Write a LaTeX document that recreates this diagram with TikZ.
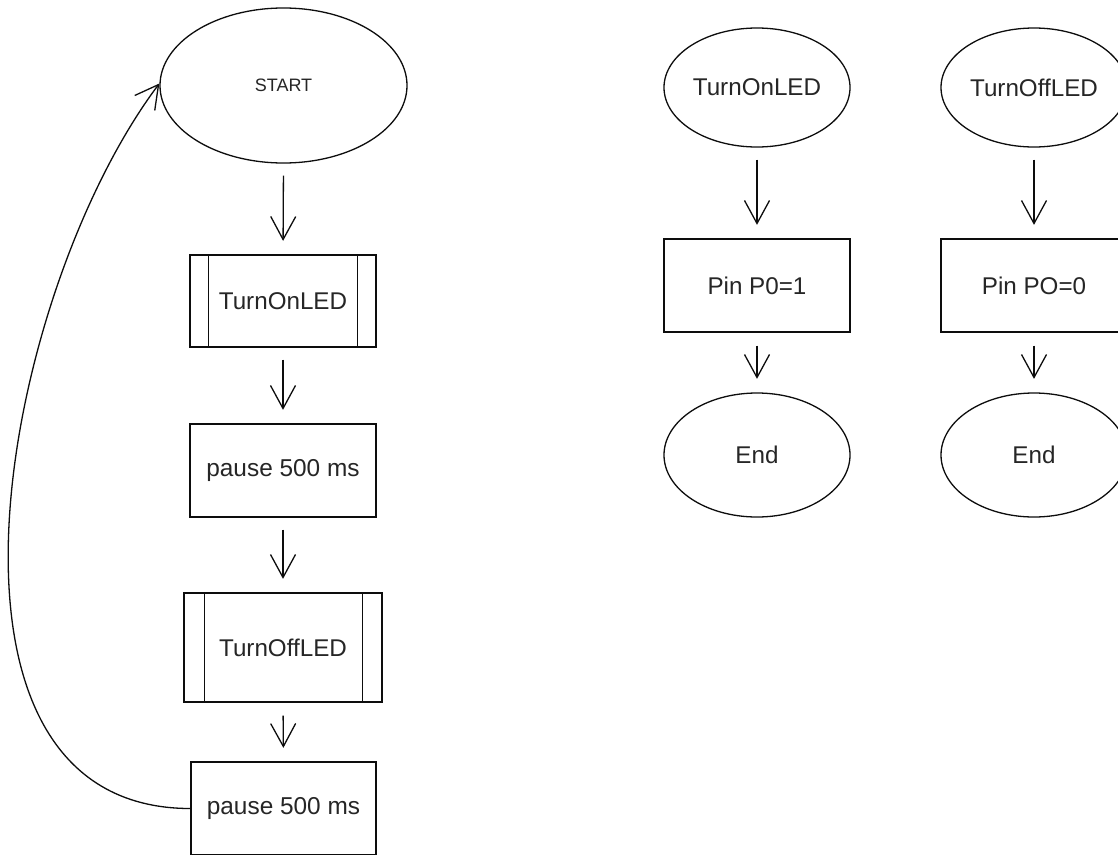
\documentclass[tikz,border=0pt]{standalone}
\usepackage{fontspec}
\setmainfont{Liberation Sans}
\usetikzlibrary{shapes.geometric,arrows.meta}
\tikzset{
  every node/.style={text=black!85, font=\fontsize{24.2}{29}\selectfont},
  oval/.style={draw=black!95, line width=1.3pt, ellipse, inner sep=0pt},
  procbox/.style={draw=black!95, line width=1.3pt, rectangle, inner sep=0pt},
  flow/.style={draw=black!95, line width=1.3pt, -{Straight Barb[length=23pt,width=25pt,line width=1.3pt]}, shorten <=12pt, shorten >=13.5pt},
  loopline/.style={draw=black!95, line width=1.3pt, -{Straight Barb[length=23pt,width=25pt,line width=1.3pt]}},
  pausefont/.style={font=\fontsize{24.4}{29}\selectfont}
}
\begin{document}
\begin{tikzpicture}[x=1pt,y=-1pt]
\useasboundingbox (0,0) rectangle (1118,854);
\clip (0,0) rectangle (1118,854);
\fill[white] (0,0) rectangle (1118,854);

% left column
\node[oval, minimum width=247pt, minimum height=155pt, font=\fontsize{18}{22}\selectfont] (start) at (283.5,85.5) {START};
\node[procbox, minimum width=186pt, minimum height=92pt] (on) at (283,301) {TurnOnLED};
\draw[black!95, line width=1.3pt] ([xshift=19pt]on.north west) -- ([xshift=19pt]on.south west)
  ([xshift=-19pt]on.north east) -- ([xshift=-19pt]on.south east);
\node[procbox, pausefont, minimum width=186pt, minimum height=93pt] (p1) at (283,470.5) {pause 500 ms};
\node[procbox, minimum width=198pt, minimum height=109pt] (off) at (283,647.5) {TurnOffLED};
\draw[black!95, line width=1.3pt] ([xshift=21pt]off.north west) -- ([xshift=21pt]off.south west)
  ([xshift=-20pt]off.north east) -- ([xshift=-20pt]off.south east);
\node[procbox, pausefont, minimum width=185pt, minimum height=93pt] (p2) at (283.5,808.5) {pause 500 ms};

\draw[flow] (start.south) -- (on.north);
\draw[flow] (on.south) -- (p1.north);
\draw[flow] (p1.south) -- (off.north);
\draw[flow] ([yshift=-1pt]off.south) -- (p2.north);
\draw[loopline] (p2.west) .. controls +(-283,0) and +(-159,212) .. ([yshift=2pt]start.west);

% right column A
\node[oval, minimum width=186pt, minimum height=119pt] (ona) at (757,87.5) {TurnOnLED};
\node[procbox, minimum width=186pt, minimum height=93pt] (pina) at (757,285.5) {Pin P0=1};
\node[oval, minimum width=186pt, minimum height=124pt] (enda) at (757,455) {End};
\draw[flow] (ona.south) -- (pina.north);
\draw[flow] ([yshift=-1pt]pina.south) -- (enda.north);

% right column B
\node[oval, minimum width=186pt, minimum height=119pt] (offb) at (1034,87.5) {TurnOffLED};
\node[procbox, minimum width=186pt, minimum height=93pt] (pinb) at (1034,285.5) {Pin PO=0};
\node[oval, minimum width=186pt, minimum height=124pt] (endb) at (1034,455) {End};
\draw[flow] (offb.south) -- (pinb.north);
\draw[flow] ([yshift=-1pt]pinb.south) -- (endb.north);
\end{tikzpicture}
\end{document}
